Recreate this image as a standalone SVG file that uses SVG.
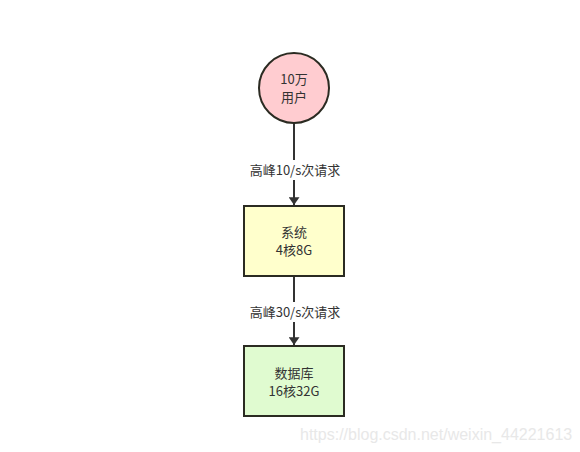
<svg xmlns="http://www.w3.org/2000/svg" width="580" height="452" viewBox="0 0 580 452">
<style>
.t{font-family:"Noto Sans CJK SC","Liberation Sans",sans-serif;font-size:13px;fill:#333;text-anchor:middle}
.n{stroke:#2b2b22;stroke-width:2}
.c{stroke:#333;stroke-width:2;fill:none}
.w{font-family:"Liberation Sans",sans-serif;font-size:16px;fill:#e8e8e8}
</style>
<defs>
<marker id="a" viewBox="0 0 10 14" refX="10" refY="7" markerWidth="7.5" markerHeight="5.5" markerUnits="strokeWidth" orient="auto">
<path d="M0,0L10,7L0,14z" fill="#333"/>
</marker>
</defs>
<rect width="580" height="452" fill="#fff"/>
<g id="connectors">
<line class="c" x1="294" y1="123" x2="294" y2="205" marker-end="url(#a)"/>
<rect x="244" y="160" width="100" height="20" fill="#fff"/>
<text class="t" x="295" y="175">高峰10/s次请求</text>
<line class="c" x1="294" y1="277" x2="294" y2="345" marker-end="url(#a)"/>
<rect x="244" y="302" width="100" height="20" fill="#fff"/>
<text class="t" x="295" y="317">高峰30/s次请求</text>
</g>
<g id="users">
<circle class="n" cx="294" cy="88" r="35" fill="#ffccd0"/>
<text class="t" x="294" y="84">10万</text>
<text class="t" x="294" y="102">用户</text>
</g>
<g id="system">
<rect class="n" x="244" y="206" width="100" height="70" fill="#ffffcc"/>
<text class="t" x="294" y="237">系统</text>
<text class="t" x="294" y="255">4核8G</text>
</g>
<g id="database">
<rect class="n" x="244" y="346" width="100" height="70" fill="#e0fbd0"/>
<text class="t" x="294" y="378">数据库</text>
<text class="t" x="294" y="396">16核32G</text>
</g>
<text class="w" x="300" y="440">https://blog.csdn.net/weixin_44221613</text>
</svg>
